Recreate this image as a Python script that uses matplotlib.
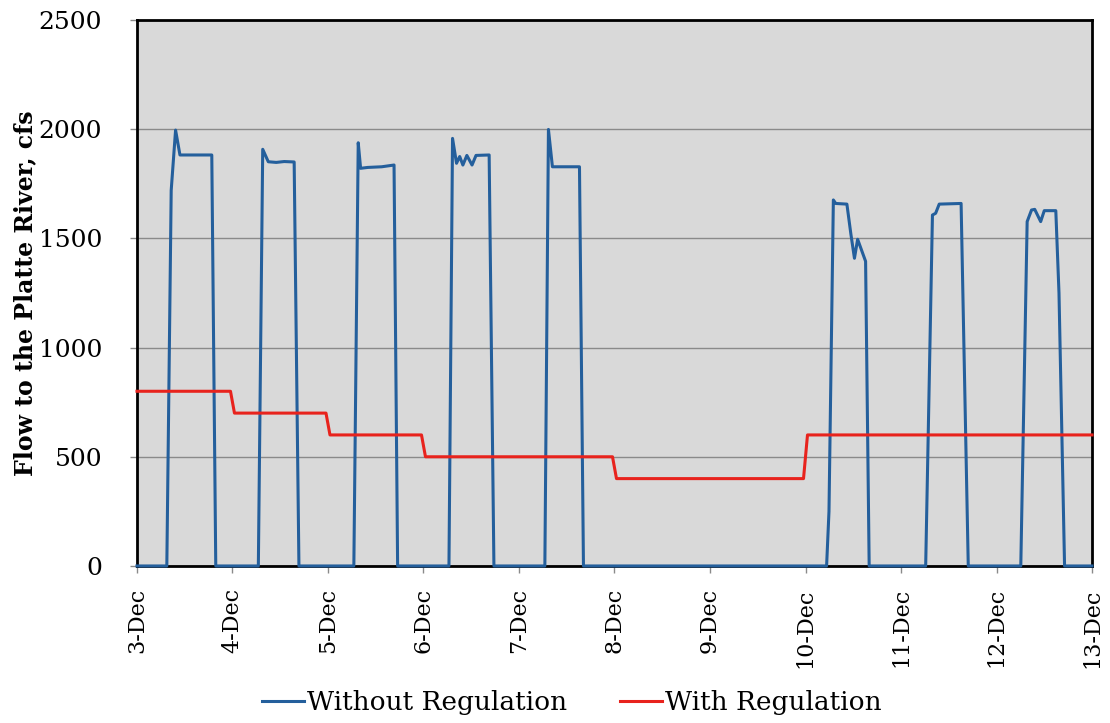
from matplotlib import pyplot as plt
import numpy as np

# Flow to the Platte River, hourly run, 3-Dec to 13-Dec
# times are hours after 3-Dec 00:00
day_labels = ['3-Dec', '4-Dec', '5-Dec', '6-Dec', '7-Dec', '8-Dec',
              '9-Dec', '10-Dec', '11-Dec', '12-Dec', '13-Dec']

no_reg_hours = [0, 7.5, 8.6, 9.7, 10.8, 18.8, 19.8,
                30.5, 31.6, 33.0, 35.0, 37.0, 39.5, 40.7,
                54.5, 55.6, 56.2, 58.0, 61.5, 64.6, 65.5,
                78.4, 79.3, 80.3, 81.1, 81.9, 82.9, 84.2, 85.2, 88.5, 89.7,
                102.5, 103.4, 104.4, 111.2, 112.2,
                173.3, 173.9, 175.0, 175.6, 178.4, 179.4, 180.3, 181.1, 183.1, 184.0,
                198.2, 199.9, 200.7, 201.6, 207.1, 208.9,
                222.1, 223.7, 224.8, 225.6, 227.1, 228.0, 230.9, 231.7, 233.1, 240]
no_reg_flow = [0, 0, 1720, 1996, 1882, 1882, 0,
               0, 1908, 1851, 1848, 1852, 1850, 0,
               0, 1938, 1821, 1825, 1828, 1836, 0,
               0, 1958, 1844, 1875, 1836, 1880, 1836, 1880, 1882, 0,
               0, 1999, 1828, 1828, 0,
               0, 250, 1676, 1660, 1657, 1520, 1409, 1496, 1395, 0,
               0, 1607, 1615, 1657, 1660, 0,
               0, 1577, 1630, 1633, 1577, 1627, 1627, 1250, 0, 0]

reg_hours = [0, 23.5, 24.5, 47.5, 48.5, 71.5, 72.5, 119.5, 120.5, 167.5, 168.5, 240]
reg_flow = [800, 800, 700, 700, 600, 600, 500, 500, 400, 400, 600, 600]

fig = plt.figure(figsize=(11.1, 7.23), dpi=100)
ax = fig.add_axes([0.1234, 0.2172, 0.8604, 0.7551])
ax.set_facecolor('#d9d9d9')

ax.plot(np.array(no_reg_hours) / 24, no_reg_flow, c='#245f9c', lw=2.2,
        label='Without Regulation', zorder=3, clip_on=False)
ax.plot(np.array(reg_hours) / 24, reg_flow, c='#e8231d', lw=2.2,
        label='With Regulation', zorder=3, clip_on=False)

ax.set_xlim(0, 10)
ax.set_ylim(0, 2500)
ax.set_yticks(np.arange(0, 2501, 500))
ax.set_xticks(np.arange(len(day_labels)))
ax.set_xticklabels(day_labels, rotation=90)
ax.yaxis.grid(True, color='#8a8a8a', lw=1.0)
ax.set_axisbelow(True)
for s in ax.spines.values():
    s.set_color('black')
    s.set_linewidth(2.0)
ax.tick_params(axis='both', direction='out', length=5, width=1, color='#8a8a8a',
               labelfontfamily='DejaVu Serif')
ax.tick_params(axis='y', pad=20, labelsize=18)
ax.tick_params(axis='x', pad=11, labelsize=16)
ax.set_ylabel('Flow to the Platte River, cfs', fontsize=17, fontweight='bold',
              family='DejaVu Serif', labelpad=1)

fig.legend(loc='lower center', bbox_to_anchor=(0.515, -0.022), ncol=2, frameon=False,
           handlelength=1.6, handletextpad=0.1, columnspacing=2.0,
           prop={'family': 'DejaVu Serif', 'size': 19})

plt.savefig('out.png', dpi=100)
